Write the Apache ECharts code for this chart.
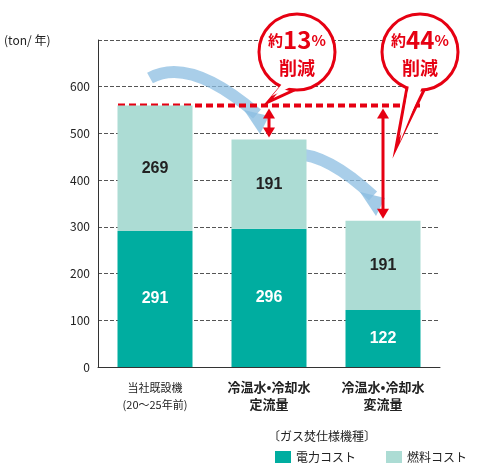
<!DOCTYPE html><html><head><meta charset="utf-8"><script src="https://cdn.jsdelivr.net/npm/echarts@6/dist/echarts.min.js"></script></head><body style="margin:0"><div id="c" style="width:480px;height:472px"></div><script>
const categories=['当社既設機\n(20～25年前)','冷温水•冷却水\n定流量','冷温水•冷却水\n変流量'];
const power=[291,296,122];
const fuel=[269,191,191];
const yTicks=[0,100,200,300,400,500,600];
const ch=echarts.init(document.getElementById('c'));
const F='"Noto Sans CJK JP",sans-serif';
ch.setOption({
animation:false,
grid:{left:98,right:40,top:40,bottom:105},
xAxis:{type:'category',data:categories,axisTick:{show:false},axisLine:{lineStyle:{color:'#333'}},
 axisLabel:{interval:0,fontFamily:F,color:'#222',fontSize:12,lineHeight:17,margin:12,
 formatter:(v,i)=>i===0?'{n|'+v.replace('\n','}\n{n|')+'}':'{b|'+v.replace('\n','}\n{b|')+'}',
 rich:{n:{fontSize:11,fontFamily:F,color:'#222'},b:{fontSize:13,fontWeight:'bold',fontFamily:F,color:'#222'}}}},
yAxis:{type:'value',min:0,max:700,interval:100,axisLine:{show:true,lineStyle:{color:'#333'}},axisTick:{show:false},
 splitLine:{lineStyle:{type:'dashed',color:'#555'}},
 axisLabel:{fontFamily:F,color:'#222',fontSize:12,formatter:v=>yTicks.includes(v)?v:''}},
legend:{bottom:4,left:270,width:210,orient:'horizontal',itemWidth:16,itemHeight:12,itemGap:30,textStyle:{fontFamily:F,fontSize:12,color:'#222'},icon:'rect'},
series:[
 {name:'電力コスト',type:'bar',stack:'a',barWidth:75,data:power,itemStyle:{color:'#00ada0'},label:{show:true,color:'#fff',fontWeight:'bold',fontSize:16}},
 {name:'燃料コスト',type:'bar',stack:'a',data:fuel,itemStyle:{color:'#acdcd4'},label:{show:true,color:'#222',fontWeight:'bold',fontSize:16}}
]});
const p=(i,v)=>ch.convertToPixel({xAxisIndex:0,yAxisIndex:0},[i,v]);
const top0=power[0]+fuel[0];
const a=p(0,top0),b=p(2,top0),x1=p(1,0)[0],t2=p(1,power[1]+fuel[1]),t3=p(2,power[2]+fuel[2]);
const red='#e60012';
function dbl(x,y1,y2){return [
 {type:'line',shape:{x1:x,y1:y1+8,x2:x,y2:y2-8},style:{stroke:red,lineWidth:3}},
 {type:'polygon',shape:{points:[[x,y1],[x-6,y1+10],[x+6,y1+10]]},style:{fill:red}},
 {type:'polygon',shape:{points:[[x,y2],[x-6,y2-10],[x+6,y2-10]]},style:{fill:red}}];}
function bubble(cx,cy,tx,ty,pct){return [
 {type:'polygon',shape:{points:[[cx-12,cy+30],[tx,ty],[cx+6,cy+34]]},style:{fill:'#fff',stroke:red,lineWidth:3}},
 {type:'circle',shape:{cx,cy,r:38},style:{fill:'#fff',stroke:red,lineWidth:3}},
 {type:'polygon',shape:{points:[[cx-10,cy+26],[tx+4,ty-6],[cx+4,cy+30]]},style:{fill:'#fff'}},
 {type:'text',x:cx,y:cy-12,style:{text:'{a|約}{b|'+pct+'}{a|%}',align:'center',verticalAlign:'middle',rich:{a:{fill:red,fontSize:15,fontWeight:'bold',fontFamily:F},b:{fill:red,fontSize:24,fontWeight:'bold',fontFamily:F}}}},
 {type:'text',x:cx,y:cy+16,style:{text:'削減',fill:red,fontSize:18,fontWeight:'bold',fontFamily:F,align:'center',verticalAlign:'middle'}}];}
function curve(sx,sy,ex,ey){return [
 {type:'bezierCurve',shape:{x1:sx,y1:sy,cpx1:sx+40,cpy1:sy-22,x2:ex,y2:ey-14},style:{stroke:'rgba(140,190,225,0.75)',lineWidth:12,fill:null}},
 {type:'polygon',shape:{points:[[ex-13,ey-18],[ex+12,ey-12],[ex+3,ey+6]]},style:{fill:'rgba(140,190,225,0.8)'}}];}
const g=[
 ...curve(a[0]-5,78,x1-12,128),...curve(x1+2,160,b[0]-10,210),
 {type:'line',shape:{x1:a[0]-37,y1:a[1],x2:b[0]+37,y2:a[1]},style:{stroke:red,lineWidth:4,lineDash:[7,4]}},
 ...dbl(x1,a[1]+3,t2[1]-2),...dbl(b[0],a[1]+3,t3[1]-2),
 ...bubble(297,52,268,102,'13'),...bubble(420,52,396,148,'44'),
 {type:'text',left:4,top:34,style:{text:'(ton/ 年)',fontFamily:F,fontSize:12,fill:'#222'}},
 {type:'text',left:268,top:430,style:{text:'〔ガス焚仕様機種〕',fontFamily:F,fontSize:12,fill:'#222'}}
];
ch.setOption({graphic:g});
</script></body></html>
